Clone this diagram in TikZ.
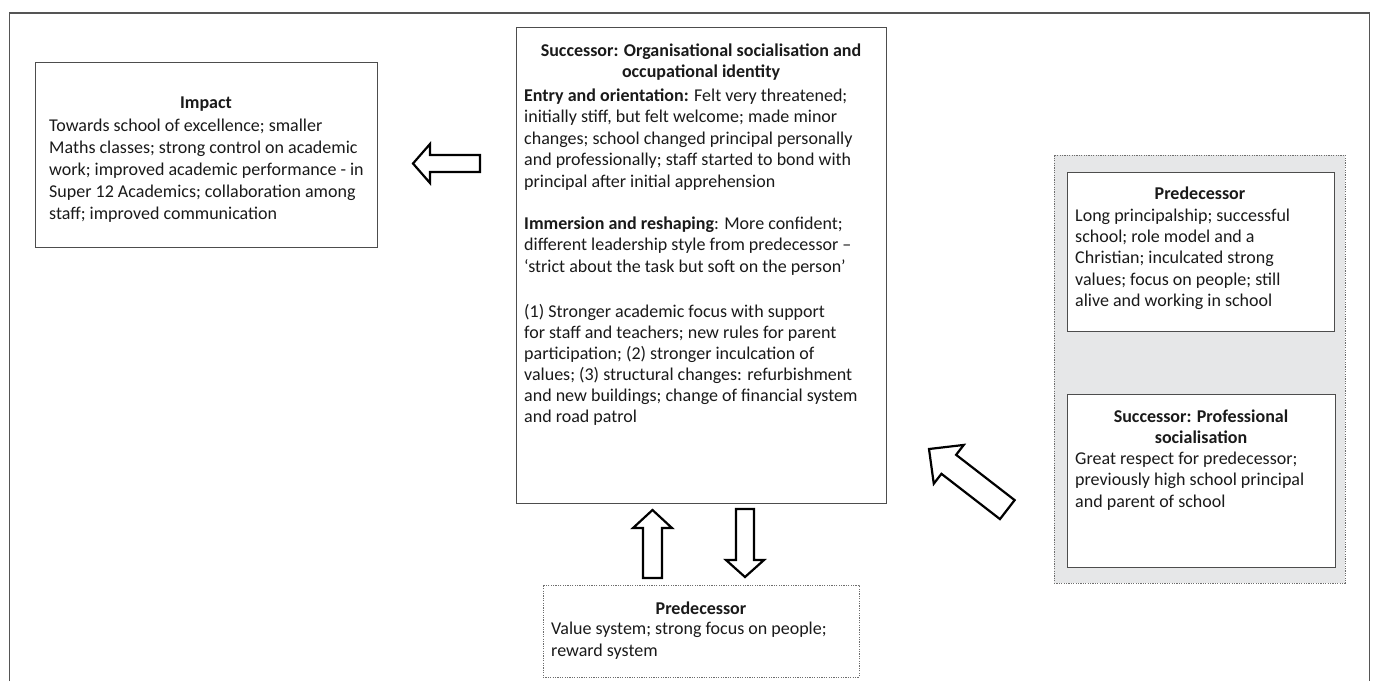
\documentclass[tikz,border=0pt]{standalone}
\usepackage{fontspec}
\setmainfont{Carlito}
\usetikzlibrary{calc}
\definecolor{boxgray}{HTML}{4D4D4D}
\definecolor{dotgray}{HTML}{6E6E6E}
\definecolor{txt}{HTML}{1A1A1A}
\definecolor{fillgray}{HTML}{E6E7E8}
\definecolor{framegray}{HTML}{555555}
\newcommand{\blockarrow}[5]{%
  \path ($(#2)!#3!(#1)$) coordinate (ba-b);
  \draw[barrow] (#2) -- ($(ba-b)!#4!90:(#1)$) -- ($(ba-b)!#5!90:(#1)$)
    -- ($(#1)!#5!-90:(ba-b)$) -- ($(#1)!#5!90:(ba-b)$)
    -- ($(ba-b)!#5!-90:(#1)$) -- ($(ba-b)!#4!-90:(#1)$) -- cycle;
}
\begin{document}
\begin{tikzpicture}[x=1pt,y=-1pt,
  box/.style={draw=boxgray, line width=0.9pt, fill=white, rectangle, inner sep=0pt},
  dotbox/.style={draw=dotgray, line width=0.9pt, dash pattern=on 1.2pt off 1.2pt, rectangle, inner sep=0pt},
  ttl/.style={font=\fontsize{18}{21.5}\selectfont\bfseries, anchor=north, inner sep=0pt, align=center, text=txt},
  txtn/.style={font=\fontsize{18}{21.5}\selectfont, anchor=north west, inner sep=0pt, align=left, text=txt},
  barrow/.style={draw=black, line width=2.2pt, fill=white, line join=miter}]
\useasboundingbox (0,0) rectangle (1373,681);
\fill[white] (0,0) rectangle (1373,681);
\draw[framegray, line width=1.2pt] (9.5,681) -- (9.5,13) -- (1369.5,13) -- (1369.5,681);

% boxes
\node[box, minimum width=342, minimum height=185] (impact) at (206,154.5) {};
\node[box, minimum width=370, minimum height=476] (main) at (701,265) {};
\node[dotbox, fill=white, minimum width=316, minimum height=92] (bpred) at (701,631) {};
\node[dotbox, fill=fillgray, minimum width=291, minimum height=428] (group) at (1199.5,369) {};
\node[box, minimum width=267, minimum height=159] (rpred) at (1200.5,251.5) {};
\node[box, minimum width=268, minimum height=173] (rsucc) at (1201,480.5) {};

% texts
\node[ttl] (impactT) at (206,93) {\strut Impact};
\node[txtn, font=\fontsize{18}{22}\selectfont] (impactB) at (49,116) {\strut Towards school of excellence; smaller\\
Maths classes; strong control on academic\\
work; improved academic performance - in\\
Super 12 Academics; collaboration among\\
staff; improved communication};

\node[ttl] (mainT) at (701,41) {\strut Successor: Organisational socialisation and\\ occupational identity};
\node[txtn] (mainA) at (524,86) {\strut\textbf{Entry and orientation:} Felt very threatened;\\
initially stiff, but felt welcome; made minor\\
changes; school changed principal personally\\
and professionally; staff started to bond with\\
principal after initial apprehension};
\node[txtn] (mainB) at (524,214) {\strut\textbf{Immersion and reshaping}: More confident;\\
different leadership style from predecessor –\\
‘strict about the task but soft on the person’};
\node[txtn, font=\fontsize{18}{21}\selectfont] (mainC) at (524,303) {\strut(1) Stronger academic focus with support\\
for staff and teachers; new rules for parent\\
participation; (2) stronger inculcation of\\
values; (3) structural changes: refurbishment\\
and new buildings; change of financial system\\
and road patrol};

\node[ttl] (bpredT) at (701,599) {\strut Predecessor};
\node[txtn, font=\fontsize{18}{22}\selectfont] (bpredB) at (551,619) {\strut Value system; strong focus on people;\\ reward system};

\node[ttl] (rpredT) at (1200,184) {\strut Predecessor};
\node[txtn, font=\fontsize{18}{21.3}\selectfont] (rpredB) at (1075,206) {\strut Long principalship; successful\\
school; role model and a\\
Christian; inculcated strong\\
values; focus on people; still\\
alive and working in school};

\node[ttl, font=\fontsize{18}{20.5}\selectfont\bfseries] (rsuccT) at (1201,408) {\strut Successor: Professional\\ socialisation};
\node[txtn] (rsuccB) at (1075,449) {\strut Great respect for predecessor;\\
previously high school principal\\
and parent of school};

% block arrows
\coordinate (aLtail) at (480,163.5);
\coordinate (aLtip) at (413,163.5);
\coordinate (aUtail) at (652.5,578);
\coordinate (aUtip) at (652.5,510);
\coordinate (aDtail) at (745,509);
\coordinate (aDtip) at (745,577);
\coordinate (aGtip) at (929,449);
\coordinate (aGtail) at (1007.3,509.6);
\blockarrow{aLtail}{aLtip}{17pt}{19.5pt}{8.5pt}
\blockarrow{aUtail}{aUtip}{18pt}{19.5pt}{9.5pt}
\blockarrow{aDtail}{aDtip}{17pt}{19pt}{9pt}
\blockarrow{aGtail}{aGtip}{25pt}{24.5pt}{12pt}
\end{tikzpicture}
\end{document}
